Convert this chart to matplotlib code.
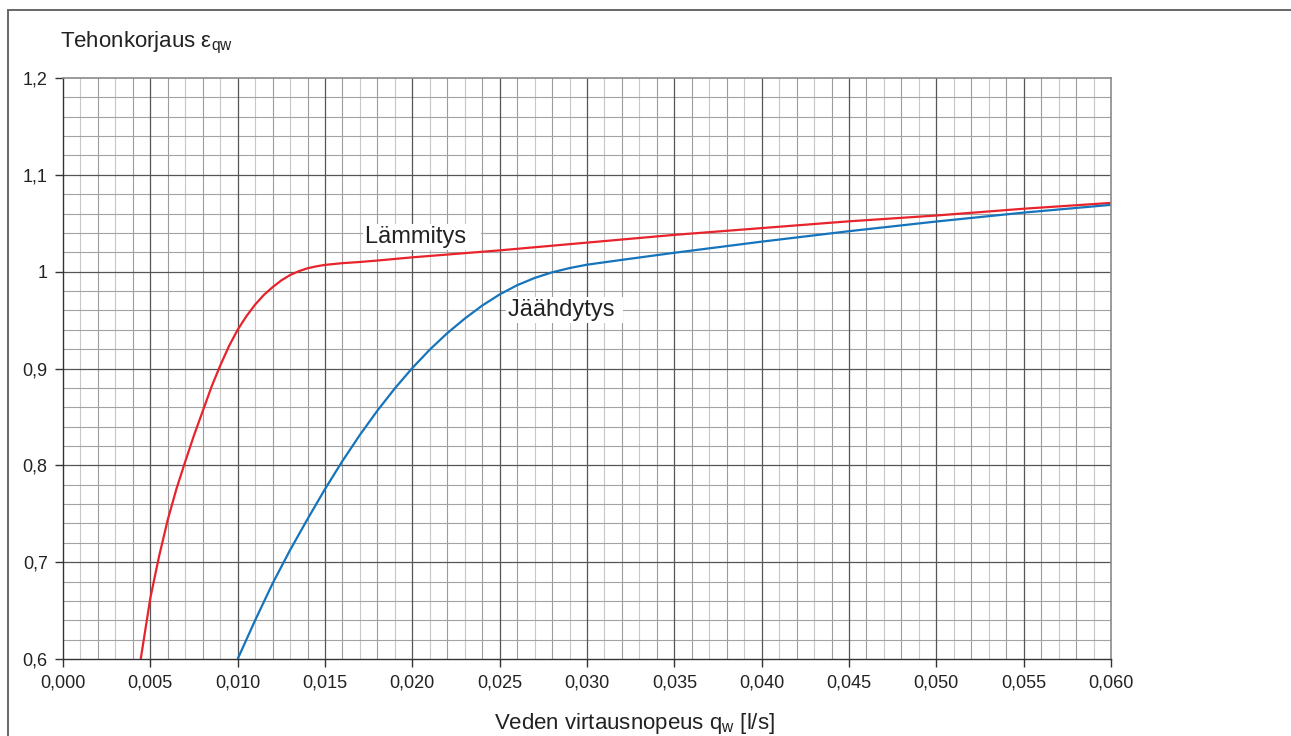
import matplotlib
matplotlib.use("Agg")
import matplotlib.pyplot as plt
from matplotlib.ticker import FixedLocator
from matplotlib.patches import Rectangle

plt.rcParams['font.family'] = ['Liberation Sans', 'DejaVu Sans']
plt.rcParams['mathtext.fontset'] = 'custom'
plt.rcParams['mathtext.rm'] = 'Liberation Sans'
plt.rcParams['mathtext.it'] = 'Liberation Sans:italic'

# Data
heat_q = [0.00445, 0.005, 0.0055, 0.006, 0.0065, 0.007, 0.0075, 0.008, 0.0085,
          0.009, 0.0095, 0.010, 0.0105, 0.011, 0.0115, 0.012, 0.0125, 0.013,
          0.0135, 0.014, 0.0145, 0.015, 0.016, 0.017, 0.018, 0.020, 0.025,
          0.030, 0.035, 0.040, 0.045, 0.050, 0.055, 0.060]
heat_e = [0.600, 0.663, 0.706, 0.744, 0.776, 0.804, 0.831, 0.856, 0.881,
          0.903, 0.923, 0.940, 0.954, 0.966, 0.976, 0.984, 0.991, 0.9965,
          1.0005, 1.0035, 1.0055, 1.007, 1.0088, 1.0100, 1.0115, 1.0148, 1.022,
          1.030, 1.038, 1.045, 1.052, 1.058, 1.065, 1.071]
cool_q = [0.010, 0.011, 0.012, 0.013, 0.014, 0.015, 0.016, 0.017, 0.018, 0.019,
          0.020, 0.021, 0.022, 0.023, 0.024, 0.025, 0.026, 0.027, 0.028, 0.029,
          0.030, 0.032, 0.035, 0.040, 0.045, 0.050, 0.055, 0.060]
cool_e = [0.600, 0.640, 0.678, 0.7125, 0.7445, 0.7755, 0.8045, 0.8315, 0.8565, 0.8795,
          0.9005, 0.9195, 0.9365, 0.9515, 0.965, 0.9765, 0.986, 0.9935, 0.9993, 1.0037,
          1.0072, 1.0122, 1.0195, 1.031, 1.0418, 1.0518, 1.061, 1.069]
x_ticks = [0.000, 0.005, 0.010, 0.015, 0.020, 0.025, 0.030, 0.035, 0.040, 0.045,
           0.050, 0.055, 0.060]
x_tick_labels = ['0,000', '0,005', '0,010', '0,015', '0,020', '0,025', '0,030',
                 '0,035', '0,040', '0,045', '0,050', '0,055', '0,060']
y_ticks = [0.6, 0.7, 0.8, 0.9, 1.0, 1.1, 1.2]
y_tick_labels = ['0,6', '0,7', '0,8', '0,9', '1', '1,1', '1,2']

W, H = 1291, 736
fig = plt.figure(figsize=(W / 100, H / 100), dpi=100)
ax = fig.add_axes([63 / W, 1 - 659 / H, (1111 - 63) / W, (659 - 78) / H])
ax.set_xlim(0, 0.060)
ax.set_ylim(0.6, 1.2)

# grid
for i in range(1, 60):
    q = i * 0.001
    if i % 5 == 0:
        ax.axvline(q, color='#555555', lw=0.9, zorder=1)
    elif i % 2 == 0:
        ax.axvline(q, color='#9c9c9c', lw=0.8, zorder=0.5)
    else:
        ax.axvline(q, color='#c8c8c8', lw=0.8, zorder=0.5)
for j in range(1, 30):
    v = 0.6 + j * 0.02
    if j % 5 == 0:
        ax.axhline(v, color='#555555', lw=0.9, zorder=1)
    else:
        ax.axhline(v, color='#a3a3a3', lw=0.8, zorder=0.5)

ax.plot(heat_q, heat_e, color='#e8232b', lw=1.6, zorder=3, solid_capstyle='butt',
        solid_joinstyle='round')
ax.plot(cool_q, cool_e, color='#1574bb', lw=1.6, zorder=3, solid_capstyle='butt',
        solid_joinstyle='round')

ax.text(0.01729, 1.0355, 'Lämmitys  ', fontsize=17, color='#222222', va='center',
        ha='left', zorder=4,
        bbox=dict(facecolor='white', edgecolor='none', pad=1.5))
ax.text(0.02548, 0.9604, 'Jäähdytys ', fontsize=17, color='#222222', va='center',
        ha='left', zorder=4,
        bbox=dict(facecolor='white', edgecolor='none', pad=1.5))

ax.xaxis.set_major_locator(FixedLocator(x_ticks))
ax.set_xticklabels(x_tick_labels)
ax.yaxis.set_major_locator(FixedLocator(y_ticks))
ax.set_yticklabels(y_tick_labels)
ax.tick_params(axis='both', direction='out', length=6, width=1.0, color='#333333',
               labelsize=13, labelcolor='#222222', pad=5)
ax.tick_params(top=False, right=False)

for s in ['left', 'bottom']:
    ax.spines[s].set_color('#333333')
    ax.spines[s].set_linewidth(1.0)
for s in ['top', 'right']:
    ax.spines[s].set_color('#8a8a8a')
    ax.spines[s].set_linewidth(1.2)
for s in ax.spines.values():
    s.set_zorder(5)

fig.text(60 / W, 1 - 43 / H, r'Tehonkorjaus $\mathrm{ε}_{\mathrm{qw}}$', fontsize=16,
         color='#222222', ha='left', va='center')
fig.text(634 / W, 1 - 723 / H, r'Veden virtausnopeus $\mathrm{q}_{\mathrm{w}}$ [l/s]',
         fontsize=16, color='#222222', ha='center', va='center')

# outer frame
fig.patches.append(Rectangle((8 / W, -0.1), 1.2, (1 - 10 / H) + 0.1,
                             transform=fig.transFigure, fill=False,
                             edgecolor='#666666', lw=1.4))

fig.savefig('out.png', dpi=100)
